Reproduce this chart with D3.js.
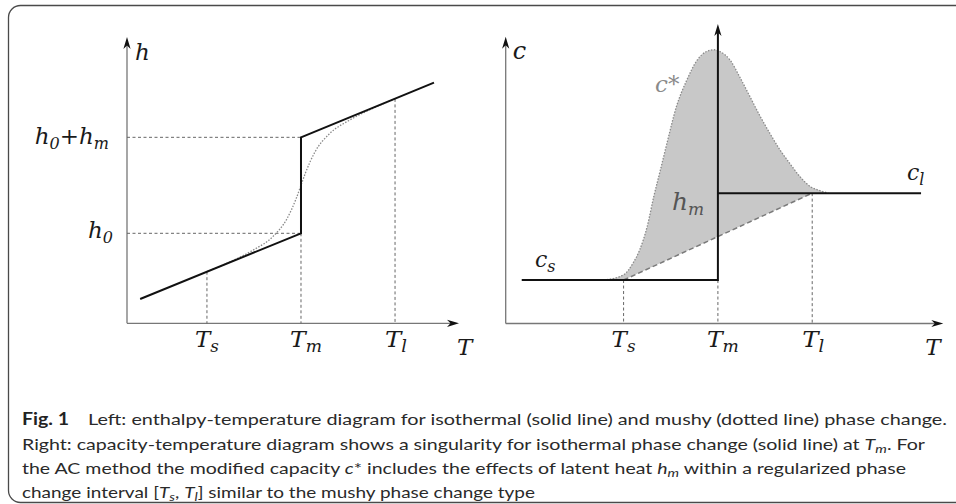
<!DOCTYPE html>
<html>
<head>
<meta charset="utf-8">
<script src="https://cdn.jsdelivr.net/npm/d3@7"></script>
<style>
  html, body { margin: 0; padding: 0; background: #fff; }
  svg { display: block; }
</style>
</head>
<body>
<script>
// ---------------- DATA ----------------
// Phase-change temperatures (T_s, T_m, T_l) and their subscripts
const tempMarks = [1, 2, 3];
const tempSubs = ["s", "m", "l"];

// Left: enthalpy h, isothermal (solid) piecewise line
const isoT = [0.29, 2, 2, 3.414];
const isoH = [0.316, 1.0, 2.0, 2.569];
const h0 = 1, h0hm = 2;
// Left: mushy (dotted) curve
const mushyT = [1.0, 1.25, 1.5, 1.7, 1.85, 1.95, 2.0, 2.05, 2.15, 2.3, 2.5, 2.75, 3.0];
const mushyH = [0.6, 0.705, 0.83, 0.965, 1.15, 1.365, 1.5, 1.635, 1.85, 2.035, 2.17, 2.295, 2.4];
// guide heights at T_s, T_m, T_l
const guideH = [0.6, 1.0, 2.4];

// Right: capacity c
const cS = 1, cL = 3;
const csT = [-0.08, 2];
const clT = [2, 4.154];
const singularTop = 6.89;
// modified capacity c* (dotted, filled)
const cStarT = [0.79, 1.0, 1.1, 1.17, 1.25, 1.32, 1.39, 1.46, 1.56, 1.67, 1.78, 1.88, 1.96, 2.02, 2.13, 2.23, 2.34, 2.45, 2.55, 2.66, 2.76, 2.87, 2.98, 3.08, 3.17];
const cStarC = [1.0, 1.12, 1.39, 1.69, 2.23, 2.92, 3.53, 4.15, 4.99, 5.60, 6.06, 6.26, 6.30, 6.26, 6.06, 5.68, 5.22, 4.76, 4.38, 3.99, 3.69, 3.38, 3.15, 3.06, 3.0];
const guideC = [1, 1, 3];

// Caption
const captionHead = "Fig. 1";
const captionLines = [
  [["Left: enthalpy-temperature diagram for isothermal (solid line) and mushy (dotted line) phase change.", "n"]],
  [["Right: capacity-temperature diagram shows a singularity for isothermal phase change (solid line) at ", "n"], ["T", "i"], ["m", "sub"], [". For", "n"]],
  [["the AC method the modified capacity ", "n"], ["c", "i"], ["* includes the effects of latent heat ", "n"], ["h", "i"], ["m", "sub"], [" within a regularized phase", "n"]],
  [["change interval [", "n"], ["T", "i"], ["s", "sub"], [", ", "n"], ["T", "i"], ["l", "sub"], ["] similar to the mushy phase change type", "n"]]
];

// ---------------- DRAWING ----------------
const W = 956, H = 504;
const svg = d3.select("body").append("svg").attr("width", W).attr("height", H);

// frame
svg.append("rect").attr("x", 8.5).attr("y", 5.5).attr("width", 1000).attr("height", 497)
  .attr("rx", 12).attr("fill", "none").attr("stroke", "#4a4a4a").attr("stroke-width", 1.3);

const serif = "'DejaVu Serif', serif";
const axisColor = "#777";
const labelLen = [24, 32, 22];
const labelOff = [12, 11, 10];

function arrow(x, y, angle, color) {
  svg.append("path").attr("d", "M0,0L-12,-3.6L-8.5,0L-12,3.6Z")
    .attr("transform", `translate(${x},${y}) rotate(${angle})`)
    .attr("fill", color || "#111");
}

function mathLabel(x, y, parts, opt) {
  opt = opt || {};
  const size = opt.size || 20, subSize = opt.subSize || 14;
  const t = svg.append("text").attr("x", x).attr("y", y)
    .attr("font-family", serif).attr("font-style", "italic")
    .attr("font-size", size).attr("fill", opt.fill || "#1a1a1a")
    .attr("text-anchor", opt.anchor || "start");
  if (opt.len) t.attr("textLength", opt.len).attr("lengthAdjust", "spacingAndGlyphs");
  let shifted = 0;
  parts.forEach(([txt, sub]) => {
    const ts = t.append("tspan").text(txt);
    const target = sub ? 5 : 0;
    if (target !== shifted) { ts.attr("dy", target - shifted); shifted = target; }
    if (sub) ts.attr("font-size", subSize);
  });
  return t;
}

function guide(x1, y1, x2, y2) {
  svg.append("line").attr("x1", x1).attr("y1", y1).attr("x2", x2).attr("y2", y2)
    .attr("stroke", "#666").attr("stroke-width", 1).attr("stroke-dasharray", "3,2.5");
}

// ===== LEFT CHART =====
const xL = d3.scaleLinear().domain([0.15, 3.68]).range([127, 459]);
const yL = d3.scaleLinear().domain([0.0625, 3.045]).range([323.3, 37]);

const gxL = svg.append("g").attr("transform", `translate(0,${yL(0.0625)})`)
  .call(d3.axisBottom(xL).tickValues([]).tickSizeOuter(0));
gxL.select(".domain").attr("stroke", axisColor).attr("stroke-width", 1.3)
  .attr("d", `M${xL(0.15)},0H${xL(3.68) - 8}`);
const gyL = svg.append("g").attr("transform", `translate(${xL(0.15)},0)`)
  .call(d3.axisLeft(yL).tickValues([]).tickSizeOuter(0));
gyL.select(".domain").attr("stroke", axisColor).attr("stroke-width", 1.3)
  .attr("d", `M0,${yL(0.0625)}V${yL(3.045) + 8}`);
arrow(xL(3.68), yL(0.0625), 0);
arrow(xL(0.15), yL(3.045), -90);

// guides
guide(xL(0.15), yL(h0), xL(2), yL(h0));
guide(xL(0.15), yL(h0hm), xL(2), yL(h0hm));
tempMarks.forEach((t, i) => guide(xL(t), yL(guideH[i]), xL(t), yL(0.0625)));

// mushy dotted curve
svg.append("path")
  .attr("d", d3.line().x(d => xL(d[0])).y(d => yL(d[1])).curve(d3.curveMonotoneX)(mushyT.map((t, i) => [t, mushyH[i]])))
  .attr("fill", "none").attr("stroke", "#8a8a8a").attr("stroke-width", 1.3).attr("stroke-dasharray", "1.5,1.5");

// isothermal solid line
svg.append("path")
  .attr("d", d3.line().x(d => xL(d[0])).y(d => yL(d[1]))(isoT.map((t, i) => [t, isoH[i]])))
  .attr("fill", "none").attr("stroke", "#111").attr("stroke-width", 2).attr("stroke-linejoin", "miter");

// labels
mathLabel(xL(0.15) + 8, 60, [["h", false]], { size: 23 });
mathLabel(xL(3.68) - 2, 355, [["T", false]], { size: 23 });
tempMarks.forEach((t, i) => mathLabel(xL(t) - labelOff[i], 347, [["T", false], [tempSubs[i], true]], { size: 22, subSize: 16, len: labelLen[i] }));
mathLabel(113, yL(h0) + 5, [["h", false], ["0", true]], { size: 23, subSize: 16, anchor: "end" });
mathLabel(109, yL(h0hm) + 7, [["h", false], ["0", true], ["+h", false], ["m", true]], { size: 23, subSize: 16, anchor: "end" });

// ===== RIGHT CHART =====
const xR = d3.scaleLinear().domain([-0.25, 4.39]).range([505.7, 943.3]);
const yR = d3.scaleLinear().domain([0, 6.6]).range([323.5, 36.7]);

// fill for c*
const starPts = cStarT.map((t, i) => [t, cStarC[i]]);
const starLine = d3.line().x(d => xR(d[0])).y(d => yR(d[1])).curve(d3.curveMonotoneX);
svg.append("path")
  .attr("d", starLine(starPts) + `L${xR(tempMarks[2])},${yR(cL)}L${xR(tempMarks[0])},${yR(cS)}Z`)
  .attr("fill", "#c8c8c8").attr("stroke", "none");

const gxR = svg.append("g").attr("transform", `translate(0,${yR(0)})`)
  .call(d3.axisBottom(xR).tickValues([]).tickSizeOuter(0));
gxR.select(".domain").attr("stroke", axisColor).attr("stroke-width", 1.3)
  .attr("d", `M${xR(-0.25)},0H${xR(4.39) - 8}`);
const gyR = svg.append("g").attr("transform", `translate(${xR(-0.25)},0)`)
  .call(d3.axisLeft(yR).tickValues([]).tickSizeOuter(0));
gyR.select(".domain").attr("stroke", axisColor).attr("stroke-width", 1.3)
  .attr("d", `M0,${yR(0)}V${yR(6.6) + 8}`);
arrow(xR(4.39), yR(0), 0);
arrow(xR(-0.25), yR(6.6), -90);

// guides
tempMarks.forEach((t, i) => guide(xR(t), yR(guideC[i]), xR(t), yR(0)));

// dashed linear line Ts..Tl
svg.append("line").attr("x1", xR(tempMarks[0])).attr("y1", yR(cS)).attr("x2", xR(tempMarks[2])).attr("y2", yR(cL))
  .attr("stroke", "#7a7a7a").attr("stroke-width", 1.5).attr("stroke-dasharray", "5,3");

// c* dotted outline
svg.append("path").attr("d", starLine(starPts))
  .attr("fill", "none").attr("stroke", "#8a8a8a").attr("stroke-width", 1.3).attr("stroke-dasharray", "1.5,1.5");

// isothermal capacity (solid) with singularity
svg.append("path")
  .attr("d", d3.line().x(d => xR(d[0])).y(d => yR(d[1]))([[csT[0], cS], [csT[1], cS]]))
  .attr("stroke", "#111").attr("stroke-width", 2).attr("fill", "none");
svg.append("path")
  .attr("d", d3.line().x(d => xR(d[0])).y(d => yR(d[1]))([[clT[0], cL], [clT[1], cL]]))
  .attr("stroke", "#111").attr("stroke-width", 2).attr("fill", "none");
svg.append("line").attr("x1", xR(tempMarks[1])).attr("y1", yR(cS) + 1).attr("x2", xR(tempMarks[1])).attr("y2", yR(singularTop) + 8)
  .attr("stroke", "#111").attr("stroke-width", 2);
arrow(xR(tempMarks[1]), yR(singularTop), -90);

// labels
mathLabel(xR(-0.25) + 7, 59, [["c", false]], { size: 24 });
mathLabel(xR(4.39) - 18, 355, [["T", false]], { size: 23 });
tempMarks.forEach((t, i) => mathLabel(xR(t) - labelOff[i], 347, [["T", false], [tempSubs[i], true]], { size: 22, subSize: 16, len: labelLen[i] }));
mathLabel(655, 92, [["c*", false]], { size: 23, fill: "#8a8a8a" });
mathLabel(672, 210, [["h", false], ["m", true]], { size: 25, subSize: 17, fill: "#555" });
mathLabel(535, 267, [["c", false], ["s", true]], { size: 22, subSize: 16 });
mathLabel(907, 180, [["c", false], ["l", true]], { size: 22, subSize: 16 });

// ===== CAPTION =====
const capFont = "Lato, 'Open Sans', sans-serif";
const capX = [88, 22, 22, 22];
const capEnd = [947, 925, 906, 535];
const capY = [425, 449.5, 474, 498];
svg.append("text").attr("x", 22).attr("y", capY[0]).attr("font-family", capFont)
  .attr("font-weight", "bold").attr("font-size", 16.5).attr("fill", "#222")
  .attr("textLength", 47).attr("lengthAdjust", "spacingAndGlyphs").text(captionHead);
captionLines.forEach((segs, li) => {
  const t = svg.append("text").attr("x", capX[li]).attr("y", capY[li])
    .attr("font-family", capFont).attr("font-size", 16).attr("fill", "#2a2a2a")
    .attr("textLength", capEnd[li] - capX[li]).attr("lengthAdjust", "spacingAndGlyphs");
  let shifted = 0;
  segs.forEach(([txt, st]) => {
    const ts = t.append("tspan").text(txt);
    const target = st === "sub" ? 3 : 0;
    if (target !== shifted) { ts.attr("dy", target - shifted); shifted = target; }
    if (st === "i" || st === "sub") ts.attr("font-style", "italic");
    if (st === "sub") ts.attr("font-size", 12);
  });
});
</script>
</body>
</html>
